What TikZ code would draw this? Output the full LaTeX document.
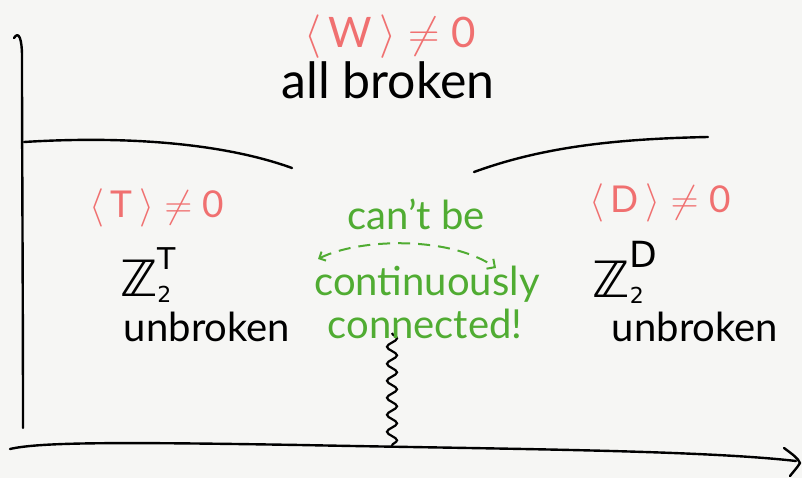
\documentclass[tikz,border=0pt]{standalone}
\usepackage{fontspec}
\setmainfont{Lato}
\newfontfamily\dejavu{DejaVu Sans}
\usetikzlibrary{decorations.pathmorphing,arrows.meta}
\definecolor{penred}{RGB}{240,112,112}
\definecolor{pengreen}{RGB}{80,172,50}
\definecolor{paper}{RGB}{246,246,244}
\newcommand{\fs}[1]{\fontsize{#1}{#1}\selectfont}
% expectation value "<X> != 0", set at 20pt and enlarged
\newcommand{\vev}[2]{\scalebox{#2}{\fs{20}\(\langle\,\mbox{#1}\,\rangle\neq\mbox{0}\)}}
\begin{document}
\begin{tikzpicture}[x=1pt,y=-1pt,
  ink/.style={line width=2.4pt, line cap=round, line join=round, draw=black},
  label/.style={inner sep=0pt, anchor=center},
  redtxt/.style={label, text=penred},
  blacktxt/.style={label, text=black},
  greentxt/.style={label, text=pengreen, font=\fs{40}}]
\fill[paper] (0,0) rectangle (802,478);
\useasboundingbox (0,0) rectangle (802,478);

% axes
\coordinate (ytop) at (22,56);
\coordinate (ybot) at (23,428);
\coordinate (xl) at (10,449);
\coordinate (xr) at (796,461);
\draw[ink] (ybot) .. controls (23,300) and (22,150) .. (ytop)
  .. controls (22,40) and (19,30) .. (14,38);
\draw[ink] (xl) .. controls (40,442) and (120,442) .. (300,445)
  .. controls (500,449) and (700,450) .. (xr);
\draw[ink] (784,448) .. controls (792,454) and (798,458) .. (800,463)
  .. controls (797,468) and (793,472) .. (790,476);

% phase boundaries
\coordinate (la) at (24,142);
\coordinate (lb) at (292,168);
\coordinate (ra) at (474,172);
\coordinate (rb) at (708,137);
\draw[ink] (la) .. controls (120,136) and (220,142) .. (lb);
\draw[ink] (ra) .. controls (540,148) and (610,139) .. (rb);

% wavy line between the two unbroken phases
\coordinate (wa) at (392,333);
\coordinate (wb) at (392,446);
\draw[line width=2.2pt, decorate,
  decoration={snake, segment length=17pt, amplitude=5pt}] (wa) -- (wb);

% top phase
\node[redtxt] (w) at (390,37) {\vev{W}{2.1}};
\node[blacktxt, font=\fs{50}] (allb) at (388,80) {all broken};

% left phase
\node[redtxt] (t) at (157,208) {\vev{T}{1.85}};
\node[blacktxt, font=\fs{50}] (zt) at (148,275)
  {\dejavu ℤ\rlap{\raisebox{-0.12em}{\fs{22}2}}\raisebox{0.55em}{\fs{30}T}};
\node[blacktxt, font=\fs{40}] (ul) at (207,327) {unbroken};

% right phase
\node[redtxt] (d) at (660,203) {\vev{D}{1.85}};
\node[blacktxt, font=\fs{50}] (zd) at (625,272)
  {\dejavu ℤ\rlap{\raisebox{-0.12em}{\fs{22}2}}\raisebox{0.6em}{\fs{36}D}};
\node[blacktxt, font=\fs{40}] (ur) at (695,327) {unbroken};

% remark in the middle
\node[greentxt] (cb) at (416,214) {can’t be};
\node[greentxt] (cont) at (427,284) {continuously};
\node[greentxt] (conn) at (425,324) {connected!};
\coordinate (al) at (318,259);
\coordinate (ar) at (496,268);
\draw[pengreen, line width=2pt, dashed, dash pattern=on 12pt off 8pt,
  {Straight Barb[length=5pt]}-{Straight Barb[length=6pt]}]
  (al) .. controls (360,238) and (450,236) .. (ar);
\end{tikzpicture}
\end{document}
